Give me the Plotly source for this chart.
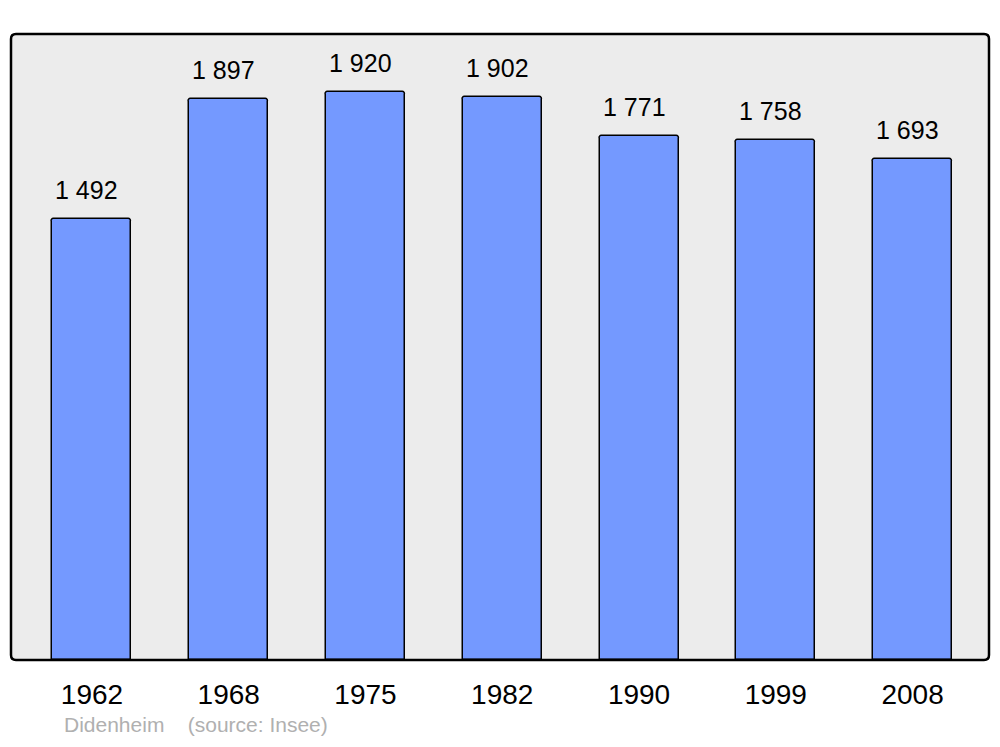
import plotly.graph_objects as go

years = ["1962", "1968", "1975", "1982", "1990", "1999", "2008"]
population = [1492, 1897, 1920, 1902, 1771, 1758, 1693]
value_labels = ["1 492", "1 897", "1 920", "1 902", "1 771", "1 758", "1 693"]
commune = "Didenheim"
source = "(source: Insee)"

FONT = "Liberation Sans, Arial, sans-serif"

fig = go.Figure()
fig.add_trace(go.Bar(
    x=years, y=population, width=0.578,
    marker=dict(color="#7499ff", line=dict(color="#000000", width=1.5), cornerradius=3),
    hoverinfo="x+y",
))

for i, (v, lab) in enumerate(zip(population, value_labels)):
    fig.add_annotation(x=i, y=v, text=lab, showarrow=False, yanchor="bottom",
                       yshift=13, xshift=-5, font=dict(family=FONT, size=25, color="#000"))

# rounded frame
rx, ry = 5 / 978, 5 / 626
path = (f"M {rx},0 L {1-rx},0 Q 1,0 1,{ry} L 1,{1-ry} Q 1,1 {1-rx},1 "
        f"L {rx},1 Q 0,1 0,{1-ry} L 0,{ry} Q 0,0 {rx},0 Z")
fig.add_shape(type="path", xref="paper", yref="paper", path=path,
              line=dict(color="#000", width=2.5), layer="above")

fig.add_annotation(xref="paper", yref="paper", x=(62 - 11) / 978, y=-78 / 626,
                   xanchor="left", yanchor="bottom", showarrow=False,
                   text=f"{commune}&nbsp;&nbsp;&nbsp;&nbsp;{source}",
                   font=dict(family=FONT, size=21, color="#b0b0b0"))

# page has an 8px body margin: figure is sized/offset to compensate
fig.update_layout(
    width=984, height=731,
    margin=dict(l=3, r=3, t=26, b=79),
    paper_bgcolor="#ffffff", plot_bgcolor="#ececec",
    showlegend=False, bargap=0,
    xaxis=dict(type="category", range=[-0.592, 6.559], showgrid=False, zeroline=False,
               showline=False, ticks="", tickfont=dict(family=FONT, size=28, color="#000"),
               ticklabelstandoff=15),
    yaxis=dict(range=[0, 2116], showgrid=False, zeroline=False, showline=False,
               showticklabels=False, ticks=""),
)

fig.write_html("out.html")
